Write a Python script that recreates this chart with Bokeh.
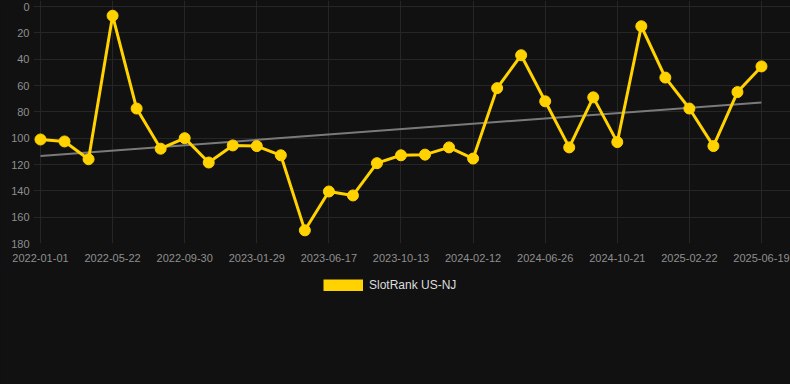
import numpy as np
from bokeh.plotting import figure
from bokeh.layouts import column
from bokeh.models import Range1d, FixedTicker, Legend, LegendItem
from bokeh.embed import file_html
from bokeh.resources import INLINE

# ---- data ----
series_name = "SlotRank US-NJ"
ranks = [101, 102.5, 116, 7, 77.5, 108, 100, 118.5, 105.5, 106, 113,
         170, 140.5, 143.5, 119, 113, 112.5, 107, 115.5, 62, 37,
         72, 107, 69, 103, 15, 54, 77.5, 106, 65, 45.5]
tick_labels = ["2022-01-01", "2022-05-22", "2022-09-30", "2023-01-29",
               "2023-06-17", "2023-10-13", "2024-02-12", "2024-06-26",
               "2024-10-21", "2025-02-22", "2025-06-19"]
y_ticks = [0, 20, 40, 60, 80, 100, 120, 140, 160, 180]

idx = np.arange(len(ranks))
tick_step = (len(ranks) - 1) // (len(tick_labels) - 1)
tick_pos = list(range(0, len(ranks), tick_step))

slope, intercept = np.polyfit(idx, ranks, 1)
trend_x = [idx[0], idx[-1]]
trend_y = [intercept + slope * idx[0], intercept + slope * idx[-1]]

BG = "#111111"
GOLD = "#ffd200"
FONT = "Liberation Sans"

p = figure(width=790, height=270, output_backend="svg", toolbar_location=None,
           x_range=Range1d(-0.291, 31.207), y_range=Range1d(180, -4.56),
           min_border_left=33, min_border_right=0, min_border_top=0,
           min_border_bottom=27)
p.background_fill_color = BG
p.border_fill_color = BG
p.outline_line_color = None

p.line(trend_x, trend_y, line_color="#7a7a7a", line_width=2)
p.line(idx, ranks, line_color=GOLD, line_width=3)
p.scatter(idx, ranks, size=11, fill_color=GOLD, line_color=GOLD)

for ax in (p.xaxis[0], p.yaxis[0]):
    ax.axis_line_color = None
    ax.major_tick_line_color = None
    ax.minor_tick_line_color = None
    ax.major_tick_out = 0
    ax.major_tick_in = 0
    ax.major_label_text_color = "#8f8f8f"
    ax.major_label_text_font = FONT
    ax.major_label_text_font_size = "11px"

p.xaxis.ticker = FixedTicker(ticks=tick_pos)
p.xaxis.major_label_overrides = {t: lab for t, lab in zip(tick_pos, tick_labels)}
p.xaxis.major_label_standoff = 10
p.yaxis.ticker = FixedTicker(ticks=y_ticks)
p.yaxis.major_label_standoff = 4

p.xgrid.ticker = FixedTicker(ticks=tick_pos)
p.ygrid.ticker = FixedTicker(ticks=y_ticks)
p.grid.grid_line_color = "#262626"
p.grid.grid_line_width = 1

# legend strip below the chart
q = figure(width=790, height=114, output_backend="svg", toolbar_location=None,
           x_range=Range1d(0, 1), y_range=Range1d(0, 1),
           x_axis_location=None, y_axis_location=None,
           min_border_left=0, min_border_right=0, min_border_top=0,
           min_border_bottom=0)
q.background_fill_color = BG
q.border_fill_color = BG
q.outline_line_color = None
q.grid.visible = False
# hidden copy of the series, used only for its legend swatch
swatch = q.line(idx, ranks, line_color=GOLD, line_width=12, line_cap="butt",
                visible=False)

legend = Legend(items=[LegendItem(label=series_name, renderers=[swatch])],
                location=(290, 92), orientation="horizontal")
legend.background_fill_alpha = 0
legend.border_line_color = None
legend.inactive_fill_alpha = 0
legend.glyph_width = 40
legend.glyph_height = 12
legend.label_text_color = "#dddddd"
legend.label_text_font = FONT
legend.label_text_font_size = "12px"
legend.label_standoff = 6
legend.margin = 0
legend.padding = 4
q.add_layout(legend, "center")

layout = column(p, q, spacing=0)
layout.styles = {"background-color": BG}

html = file_html(layout, INLINE)
html = html.replace("</head>", "<style>body{background:#111111;}</style></head>", 1)
open("out.html", "w").write(html)
